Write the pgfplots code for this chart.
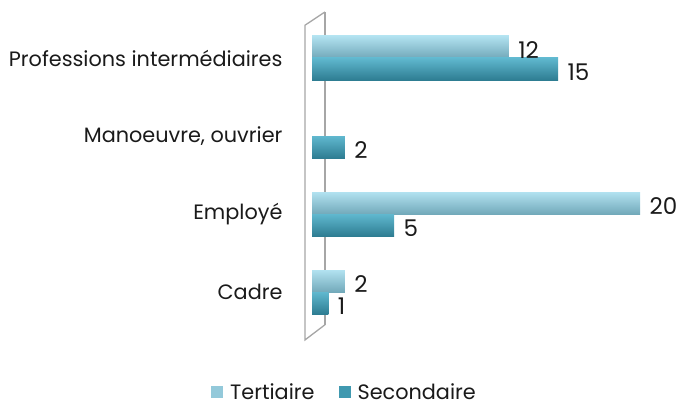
\documentclass[border=0pt]{standalone}
\usepackage{pgfplots}
\pgfplotsset{compat=1.18}
\usepackage{fontspec}
\setmainfont{Poppins}
\definecolor{terTop}{HTML}{B2E2F0}
\definecolor{terMid}{HTML}{9DD5E6}
\definecolor{terBot}{HTML}{72A9BA}
\definecolor{secTop}{HTML}{60B8CF}
\definecolor{secMid}{HTML}{4AA8C1}
\definecolor{secBot}{HTML}{2E7D92}
\definecolor{terLeg}{HTML}{93C9DA}
\definecolor{secLeg}{HTML}{4099B0}
\definecolor{wall}{HTML}{A6A6A6}
\definecolor{txt}{HTML}{1A1A1A}
\pgfplotsset{
  ter/.style={draw=none, top color=terTop, middle color=terMid, bottom color=terBot, bar shift=11pt, forget plot},
  sec/.style={draw=none, top color=secTop, middle color=secMid, bottom color=secBot, bar shift=-11pt, forget plot},
}
\begin{document}
\begin{tikzpicture}
\useasboundingbox (0,0) rectangle (679pt,405pt);
\begin{axis}[
  at={(312pt,74pt)}, anchor=south west,
  scale only axis, width=360.8pt, height=312pt,
  xmin=0, xmax=22, ymin=-0.5, ymax=3.5,
  xbar, bar width=22pt,
  clip=false,
  axis line style={draw=none},
  major tick length=0pt,
  xtick=\empty,
  ytick={0,1,2,3},
  yticklabels={Cadre,Employé,{Manoeuvre, ouvrier},Professions intermédiaires},
  yticklabel style={font=\fontsize{20.8}{24}\selectfont, text=txt, xshift=-26pt},
  /pgf/number format/assume math mode=true,
  nodes near coords,
  nodes near coords style={font=\fontsize{23}{26}\selectfont, text=txt, anchor=west, xshift=6pt, yshift=-3pt},
  legend style={draw=none, at={(0.09,-0.195)}, anchor=center, legend columns=2,
    inner sep=1pt,
    font=\fontsize{20.8}{24}\selectfont, text=txt,
    /tikz/every even column/.append style={column sep=22pt}},
  legend image code/.code={\fill[#1] (0pt,-6pt) rectangle (12pt,6pt); \path (17pt,0pt);},
]
\draw[wall, line width=1.3pt] (0.79,-0.42) -- (0.79,3.59);
\addplot[ter] coordinates {(2,0)};
\addplot[ter] coordinates {(20,1)};
\addplot[ter] coordinates {(12,3)};
\addplot[sec] coordinates {(1,0)};
\addplot[sec] coordinates {(5,1)};
\addplot[sec] coordinates {(2,2)};
\addplot[sec] coordinates {(15,3)};
\addlegendimage{fill=terLeg, draw=none}
\addlegendentry{Tertiaire}
\addlegendimage{fill=secLeg, draw=none}
\addlegendentry{Secondaire}
\draw[wall, line width=1.3pt] (0.79,3.59) -- (-0.43,3.42) -- (-0.43,-0.615) -- (0.79,-0.42);
\end{axis}
\end{tikzpicture}
\end{document}
